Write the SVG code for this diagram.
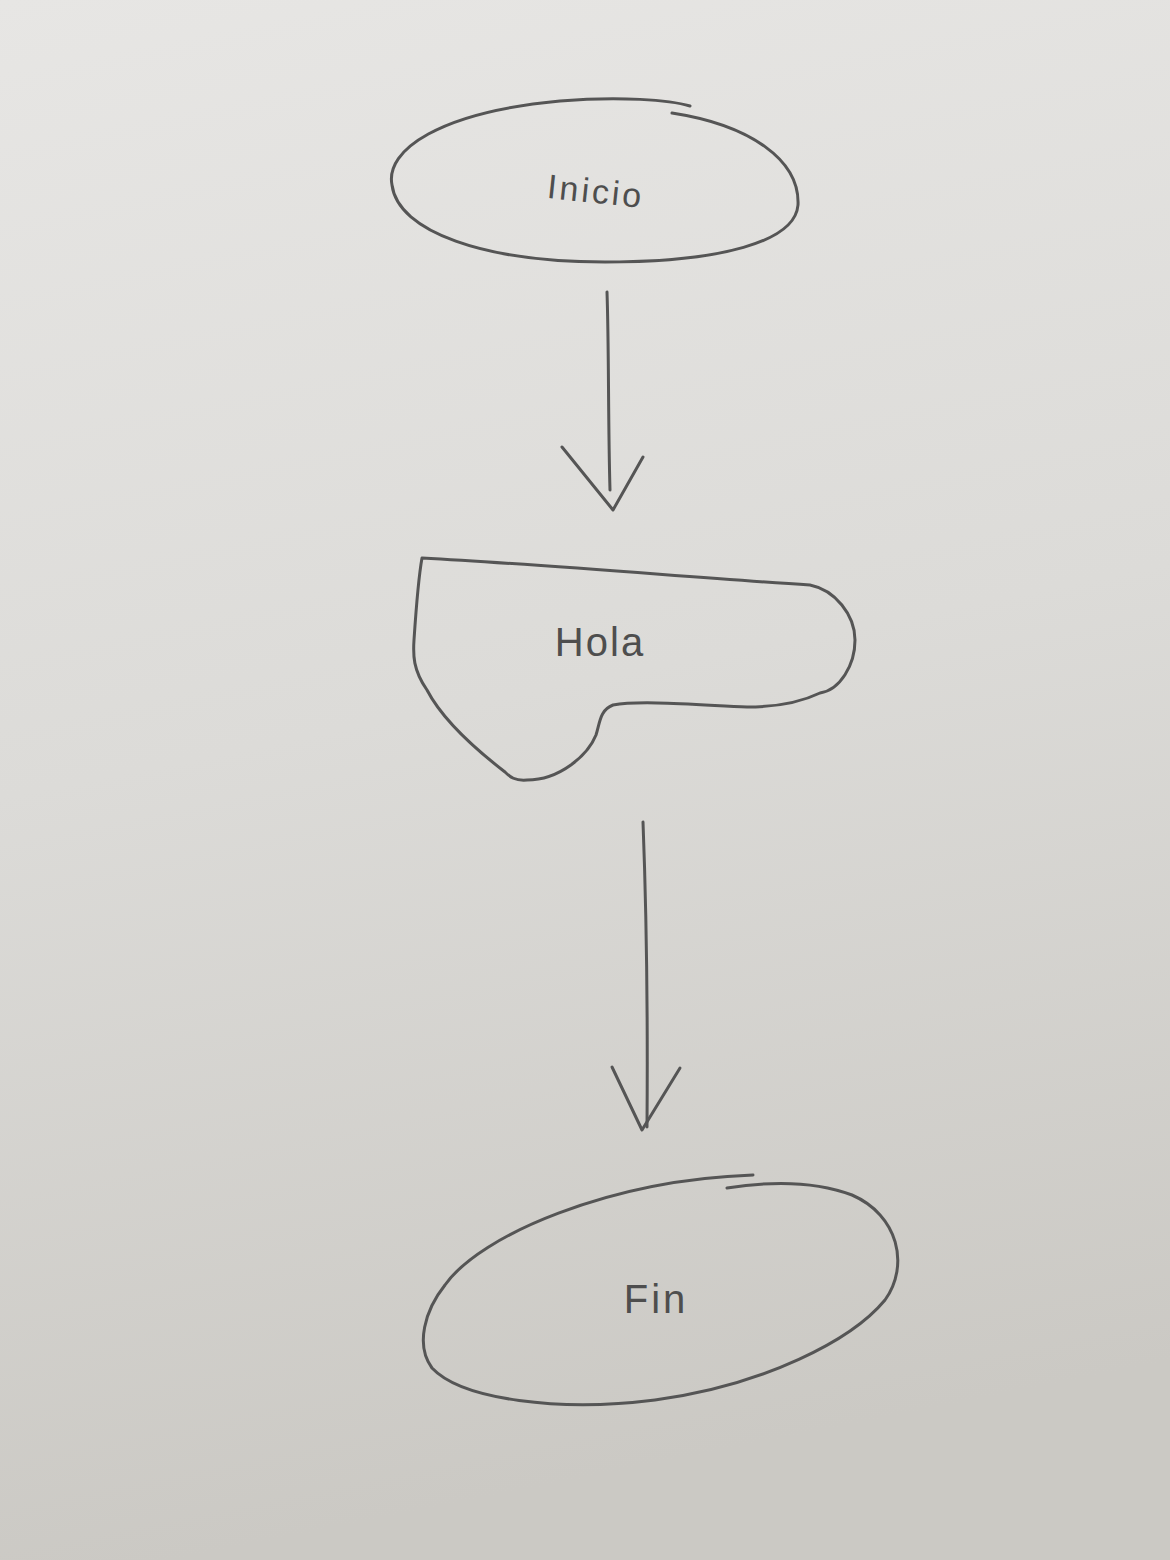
<svg xmlns="http://www.w3.org/2000/svg" width="1170" height="1560" viewBox="0 0 1170 1560">
  <defs>
    <linearGradient id="paper" x1="0" y1="0" x2="0.15" y2="1">
      <stop offset="0" stop-color="#e7e6e4"/>
      <stop offset="0.5" stop-color="#dcdbd8"/>
      <stop offset="1" stop-color="#cbc9c4"/>
    </linearGradient>
    <style>
      .pen { fill: none; stroke: #555555; stroke-width: 3; stroke-linecap: round; stroke-linejoin: round; }
      .lbl { font-family: "Liberation Sans", "DejaVu Sans", sans-serif; fill: #4e4e4e; text-anchor: middle; }
    </style>
  </defs>
  <rect width="1170" height="1560" fill="url(#paper)"/>

  <g id="inicio">
    <path class="pen" d="M 672,113 C 750,125 800,160 798,205 C 795,242 720,262 605,262 C 485,262 398,232 392,185 C 385,150 440,112 560,101 C 620,96 670,100 690,106"/>
    <text class="lbl" x="596" y="203" font-size="34" letter-spacing="3" transform="rotate(6 596 190)">Inicio</text>
  </g>

  <g id="hola">
    <path class="pen" d="M 422,558 C 550,565 700,578 810,585 C 835,590 855,615 855,640 C 855,665 840,690 820,693 C 795,705 770,707 747,707 C 700,705 640,700 613,705 C 600,710 600,722 596,735 C 588,755 560,780 527,780 C 515,781 510,777 505,772 C 470,745 440,715 427,690 C 413,670 413,655 414,640 C 416,610 418,580 422,558 Z"/>
    <text class="lbl" x="600" y="656" font-size="40" letter-spacing="2">Hola</text>
  </g>

  <g id="fin">
    <path class="pen" d="M 753,1175 C 610,1180 480,1235 445,1285 C 425,1310 415,1345 432,1368 C 462,1400 560,1412 655,1400 C 765,1385 852,1340 885,1300 C 910,1265 898,1215 852,1195 C 812,1180 765,1182 727,1188"/>
    <text class="lbl" x="656" y="1313" font-size="40" letter-spacing="3">Fin</text>
  </g>

  <g id="connectors">
    <path class="pen" d="M 607,292 C 609,350 608,420 610,490"/>
    <path class="pen" d="M 562,447 L 613,510 L 643,457"/>
    <path class="pen" d="M 643,822 C 646,900 648,1000 647,1127" stroke="#666"/>
    <path class="pen" d="M 612,1067 L 642,1130 L 680,1068" stroke="#666"/>
  </g>
</svg>
